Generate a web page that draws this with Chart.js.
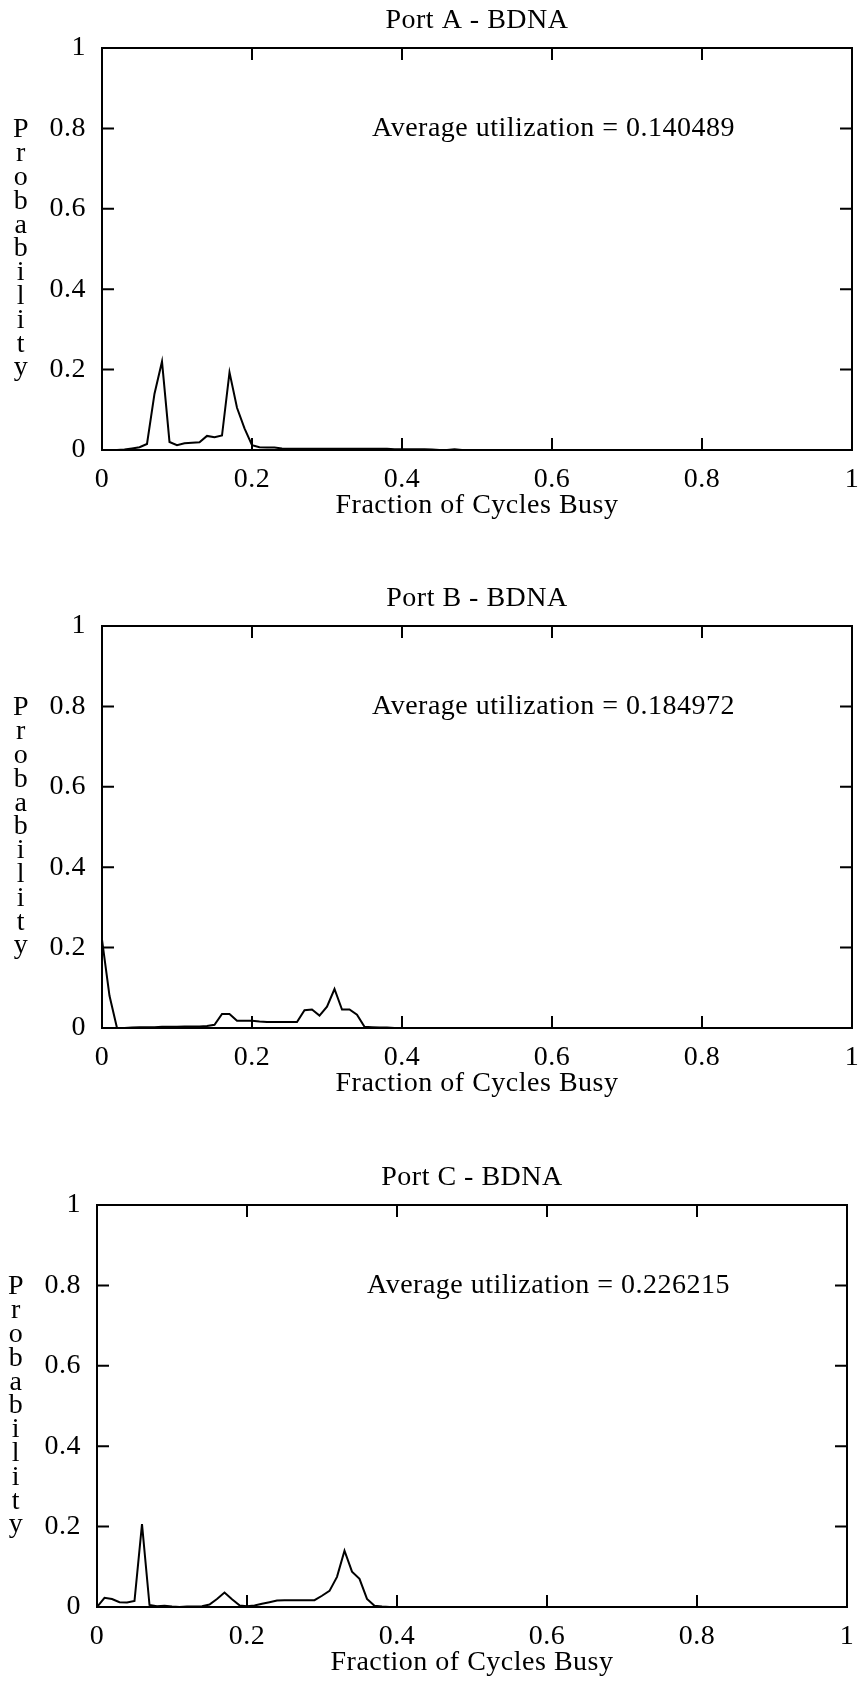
<!DOCTYPE html>
<html>
<head>
<meta charset="utf-8">
<script src="https://cdn.jsdelivr.net/npm/chart.js@4"></script>
<style>
  html, body { margin: 0; padding: 0; background: #fff; }
  body { position: relative; width: 862px; height: 1681px; overflow: hidden; }
  .panel { position: absolute; width: 862px; }
</style>
</head>
<body>
<div class="panel" style="left:0;top:0;height:578px"><canvas id="portA"></canvas></div>
<div class="panel" style="left:0;top:578px;height:578px"><canvas id="portB"></canvas></div>
<div class="panel" style="left:-5px;top:1157px;height:524px"><canvas id="portC"></canvas></div>
<script>
// fraction of cycles busy (bins)
const busyBins = [0.00, 0.01, 0.02, 0.03, 0.04, 0.05, 0.06, 0.07, 0.08, 0.09,
                  0.10, 0.11, 0.12, 0.13, 0.14, 0.15, 0.16, 0.17, 0.18, 0.19,
                  0.20, 0.21, 0.22, 0.23, 0.24, 0.25, 0.26, 0.27, 0.28, 0.29,
                  0.30, 0.31, 0.32, 0.33, 0.34, 0.35, 0.36, 0.37, 0.38, 0.39,
                  0.40, 0.41, 0.42, 0.43, 0.44, 0.45, 0.46, 0.47, 0.48, 0.49, 0.50];

const portAProb = [0, 0, 0, 0.001, 0.004, 0.007, 0.015, 0.14, 0.22, 0.02,
                   0.012, 0.017, 0.018, 0.019, 0.035, 0.032, 0.036, 0.193, 0.105, 0.054,
                   0.012, 0.007, 0.006, 0.006, 0.004, 0.003, 0.003, 0.003, 0.003, 0.003,
                   0.003, 0.003, 0.003, 0.003, 0.003, 0.003, 0.003, 0.003, 0.003, 0.002,
                   0.002, 0.002, 0.002, 0.002, 0.001, 0, 0, 0.002, 0, 0, 0];

const portBProb = [0.22, 0.08, 0, 0, 0.001, 0.002, 0.002, 0.002, 0.003, 0.003,
                   0.003, 0.004, 0.004, 0.004, 0.005, 0.008, 0.035, 0.035, 0.018, 0.018,
                   0.018, 0.016, 0.015, 0.015, 0.015, 0.015, 0.015, 0.044, 0.046, 0.031,
                   0.053, 0.097, 0.046, 0.046, 0.033, 0.003, 0.002, 0.001, 0.001, 0,
                   0, 0, 0, 0, 0, 0, 0, 0, 0, 0, 0];

const portCProb = [0, 0.023, 0.02, 0.012, 0.011, 0.015, 0.206, 0.005, 0.002, 0.003,
                   0.001, 0, 0.001, 0.001, 0.002, 0.006, 0.02, 0.036, 0.019, 0.004,
                   0.002, 0.004, 0.008, 0.012, 0.016, 0.017, 0.017, 0.017, 0.017, 0.017,
                   0.028, 0.04, 0.075, 0.14, 0.088, 0.07, 0.02, 0.003, 0.001, 0,
                   0, 0, 0, 0, 0, 0, 0, 0, 0, 0, 0];

const tickValues = [0, 0.2, 0.4, 0.6, 0.8, 1];
const tickLabels = ['0', '0.2', '0.4', '0.6', '0.8', '1'];

const panels = [
  { id: 'portA', title: 'Port A - BDNA', avg: '0.140489', prob: portAProb, height: 578 },
  { id: 'portB', title: 'Port B - BDNA', avg: '0.184972', prob: portBProb, height: 578 },
  { id: 'portC', title: 'Port C - BDNA', avg: '0.226215', prob: portCProb, height: 524 }
];

const FONT = "'Liberation Serif', 'Times New Roman', serif";
const FSIZE = 28;
const SPACING = '0.5px';

// gnuplot-like frame with inward ticks, stacked y label and the average label
const gnuplotFrame = {
  id: 'gnuplotFrame',
  beforeLayout(chart) { chart.ctx.letterSpacing = SPACING; },
  beforeDraw(chart) { chart.ctx.letterSpacing = SPACING; },
  afterDatasetsDraw(chart, args, opts) {
    const { ctx, chartArea: a, scales: { x, y } } = chart;
    ctx.save();
    ctx.strokeStyle = '#000';
    ctx.lineWidth = 2;
    ctx.strokeRect(a.left, a.top, a.right - a.left, a.bottom - a.top);
    const len = 12;
    ctx.beginPath();
    tickValues.forEach(v => {
      const px = x.getPixelForValue(v);
      ctx.moveTo(px, a.bottom); ctx.lineTo(px, a.bottom - len);
      ctx.moveTo(px, a.top); ctx.lineTo(px, a.top + len);
      const py = y.getPixelForValue(v);
      ctx.moveTo(a.left, py); ctx.lineTo(a.left + len, py);
      ctx.moveTo(a.right, py); ctx.lineTo(a.right - len, py);
    });
    ctx.stroke();

    ctx.fillStyle = '#000';
    ctx.font = FSIZE + 'px ' + FONT;
    ctx.textBaseline = 'middle';
    ctx.textAlign = 'left';
    ctx.fillText('Average utilization = ' + opts.avg, x.getPixelForValue(0.36), y.getPixelForValue(0.8));

    const letters = 'Probability'.split('');
    const step = 23.8;
    const midY = (a.top + a.bottom) / 2;
    ctx.textAlign = 'center';
    letters.forEach((ch, i) => {
      ctx.fillText(ch, 21, midY + (i - (letters.length - 1) / 2) * step);
    });
    ctx.restore();
  }
};

panels.forEach(p => {
  const ctx = document.getElementById(p.id).getContext('2d');
  new Chart(ctx, {
    type: 'line',
    data: {
      datasets: [{
        data: busyBins.map((b, i) => ({ x: b, y: p.prob[i] })),
        borderColor: '#000',
        borderWidth: 2,
        pointRadius: 0,
        tension: 0,
        fill: false
      }]
    },
    options: {
      responsive: true,
      maintainAspectRatio: false,
      animation: false,
      layout: { padding: { left: 42, right: 10, top: 0, bottom: p.height - 522 } },
      plugins: {
        legend: { display: false },
        tooltip: { enabled: false },
        title: {
          display: true,
          text: p.title,
          fullSize: false,
          color: '#000',
          font: { family: FONT, size: FSIZE, weight: 'normal', lineHeight: 1.2 },
          padding: { top: 3.5, bottom: 10.9 }
        },
        gnuplotFrame: { avg: p.avg }
      },
      scales: {
        x: {
          type: 'linear',
          min: 0,
          max: 1,
          afterFit: s => { s.height = 72; s.paddingLeft = 0; s.paddingRight = 0; },
          afterBuildTicks: s => { s.ticks = tickValues.map(v => ({ value: v })); },
          grid: { display: false, drawTicks: false },
          border: { display: false },
          ticks: {
            autoSkip: false,
            maxRotation: 0,
            padding: 13,
            color: '#000',
            font: { family: FONT, size: FSIZE },
            callback: (v, i) => tickLabels[i]
          },
          title: {
            display: true,
            text: 'Fraction of Cycles Busy',
            color: '#000',
            font: { family: FONT, size: FSIZE },
            padding: { top: 0, bottom: 0 }
          }
        },
        y: {
          min: 0,
          max: 1,
          afterFit: s => { s.width = 60; s.paddingTop = 0; s.paddingBottom = 0; },
          afterBuildTicks: s => { s.ticks = tickValues.map(v => ({ value: v })); },
          grid: { display: false, drawTicks: false },
          border: { display: false },
          ticks: {
            autoSkip: false,
            padding: 16,
            color: '#000',
            font: { family: FONT, size: FSIZE },
            callback: (v, i) => tickLabels[i]
          }
        }
      }
    },
    plugins: [gnuplotFrame]
  });
});
</script>
</body>
</html>
